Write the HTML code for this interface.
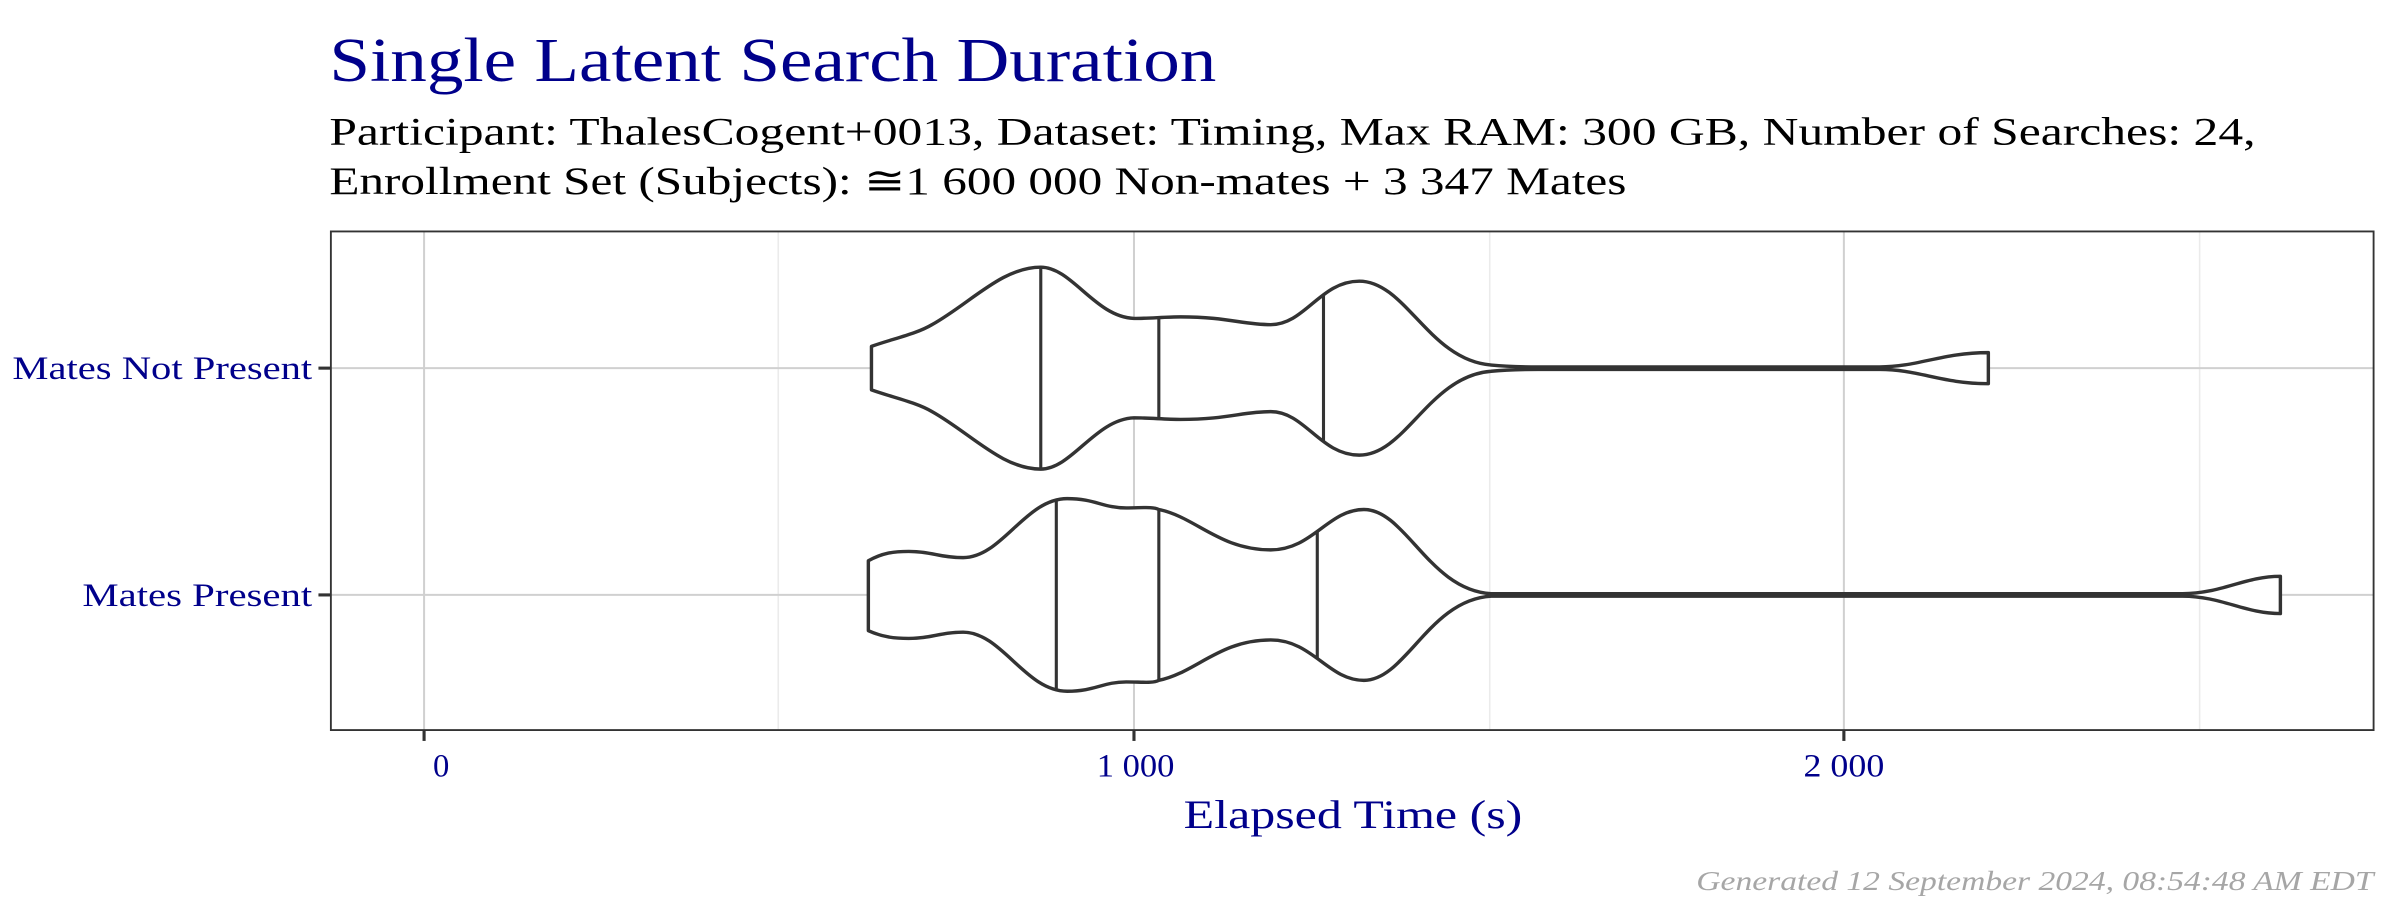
<!DOCTYPE html>
<html><head><meta charset="utf-8"><style>html,body{margin:0;padding:0;background:#fff;}svg{display:block}</style></head>
<body>
<svg width="2400" height="900" viewBox="0 0 1545 579.4" preserveAspectRatio="none" xmlns="http://www.w3.org/2000/svg" font-family="Liberation Serif, serif">
<defs>
<path id="v1" d="M561,251 L561,223 C575,218 590,215 600,209 C625,195 645,172 670,172 C690,172 705,204 730,205 C740,205 750,204 760,204 C790,204 800,209 818,209 C840,209 850,181 875,181 C905,181 920,232 960,235 C970,236 980,236.2 990,236.2 L1210,236.2 C1235,236.2 1250,227 1280,227 L1280,247 C1250,247 1235,237.8 1210,237.8 L990,237.8 C980,237.8 970,238 960,239 C920,242 905,293 875,293 C850,293 840,265 818,265 C800,265 790,270 760,270 C750,270 740,269 730,269 C705,270 690,302 670,302 C645,302 625,279 600,265 C590,259 575,256 561,251 Z"/>
<path id="v2" d="M559,406 L559,361 C568,356 575,355 585,355 C600,355 605,359 620,359 C645,359 660,321 687,321 C705,321 710,327 725,327 C735,327 742,326 746,328 C770,333 785,354 818,354 C845,354 855,328 878,328 C905,328 920,380 960,382.2 L1405,382.2 C1430,382.2 1445,371 1468,371 L1468,395 C1445,395 1430,383.8 1405,383.8 L960,383.8 C920,386 905,438 878,438 C855,438 845,412 818,412 C785,412 770,433 746,438 C742,440 735,439 725,439 C710,439 705,445 687,445 C660,445 645,407 620,407 C605,407 600,411 585,411 C575,411 568,410 559,406 Z"/>
<clipPath id="c1"><use href="#v1"/></clipPath>
<clipPath id="c2"><use href="#v2"/></clipPath>
</defs>
<rect width="1545" height="580" fill="#fff"/>
<text x="212" y="52" font-size="40" fill="#00008B" textLength="571" lengthAdjust="spacingAndGlyphs">Single Latent Search Duration</text>
<text x="212" y="93" font-size="25" fill="#000" textLength="1240" lengthAdjust="spacingAndGlyphs">Participant: ThalesCogent+0013, Dataset: Timing, Max RAM: 300 GB, Number of Searches: 24,</text>
<text x="212" y="125" font-size="25" fill="#000" textLength="835" lengthAdjust="spacingAndGlyphs">Enrollment Set (Subjects): ≅1 600 000 Non-mates + 3 347 Mates</text>
<g stroke="#ebebeb" stroke-width="1">
<line x1="501" y1="149" x2="501" y2="470"/><line x1="959" y1="149" x2="959" y2="470"/><line x1="1416" y1="149" x2="1416" y2="470"/>
</g>
<g stroke="#d0d0d0" stroke-width="1.3">
<line x1="273" y1="149" x2="273" y2="470"/><line x1="730" y1="149" x2="730" y2="470"/><line x1="1187" y1="149" x2="1187" y2="470"/>
<line x1="213" y1="237" x2="1528" y2="237"/><line x1="213" y1="383" x2="1528" y2="383"/>
</g>
<use href="#v1" fill="#fff"/>
<use href="#v2" fill="#fff"/>
<g stroke="#333" stroke-width="2">
<g clip-path="url(#c1)"><line x1="670" y1="150" x2="670" y2="320"/><line x1="746" y1="150" x2="746" y2="320"/><line x1="852" y1="150" x2="852" y2="320"/></g>
<g clip-path="url(#c2)"><line x1="680" y1="300" x2="680" y2="460"/><line x1="746" y1="300" x2="746" y2="460"/><line x1="848" y1="300" x2="848" y2="460"/></g>
</g>
<g fill="none" stroke="#333" stroke-width="2.2" stroke-linejoin="round">
<use href="#v1"/><use href="#v2"/>
</g>
<rect x="213" y="149" width="1315" height="321" fill="none" stroke="#333" stroke-width="1.2"/>
<g stroke="#333" stroke-width="2">
<line x1="205" y1="237" x2="213" y2="237"/><line x1="205" y1="383" x2="213" y2="383"/>
<line x1="273" y1="470" x2="273" y2="477"/><line x1="730" y1="470" x2="730" y2="477"/><line x1="1187" y1="470" x2="1187" y2="477"/>
</g>
<g font-size="21" fill="#00008B" text-anchor="end">
<text x="201" y="244" textLength="193" lengthAdjust="spacingAndGlyphs">Mates Not Present</text>
<text x="201" y="390" textLength="148" lengthAdjust="spacingAndGlyphs">Mates Present</text>
</g>
<g font-size="21" fill="#00008B" text-anchor="middle">
<text x="284" y="500">0</text>
<text x="731" y="500" textLength="50" lengthAdjust="spacingAndGlyphs">1 000</text>
<text x="1187" y="500" textLength="52" lengthAdjust="spacingAndGlyphs">2 000</text>
</g>
<text x="871" y="533" font-size="26" fill="#00008B" text-anchor="middle" textLength="218" lengthAdjust="spacingAndGlyphs">Elapsed Time (s)</text>
<text x="1528" y="573" font-size="18" fill="#a6a6a6" font-style="italic" text-anchor="end" textLength="436" lengthAdjust="spacingAndGlyphs">Generated 12 September 2024, 08:54:48 AM EDT</text>
</svg>
</body></html>
